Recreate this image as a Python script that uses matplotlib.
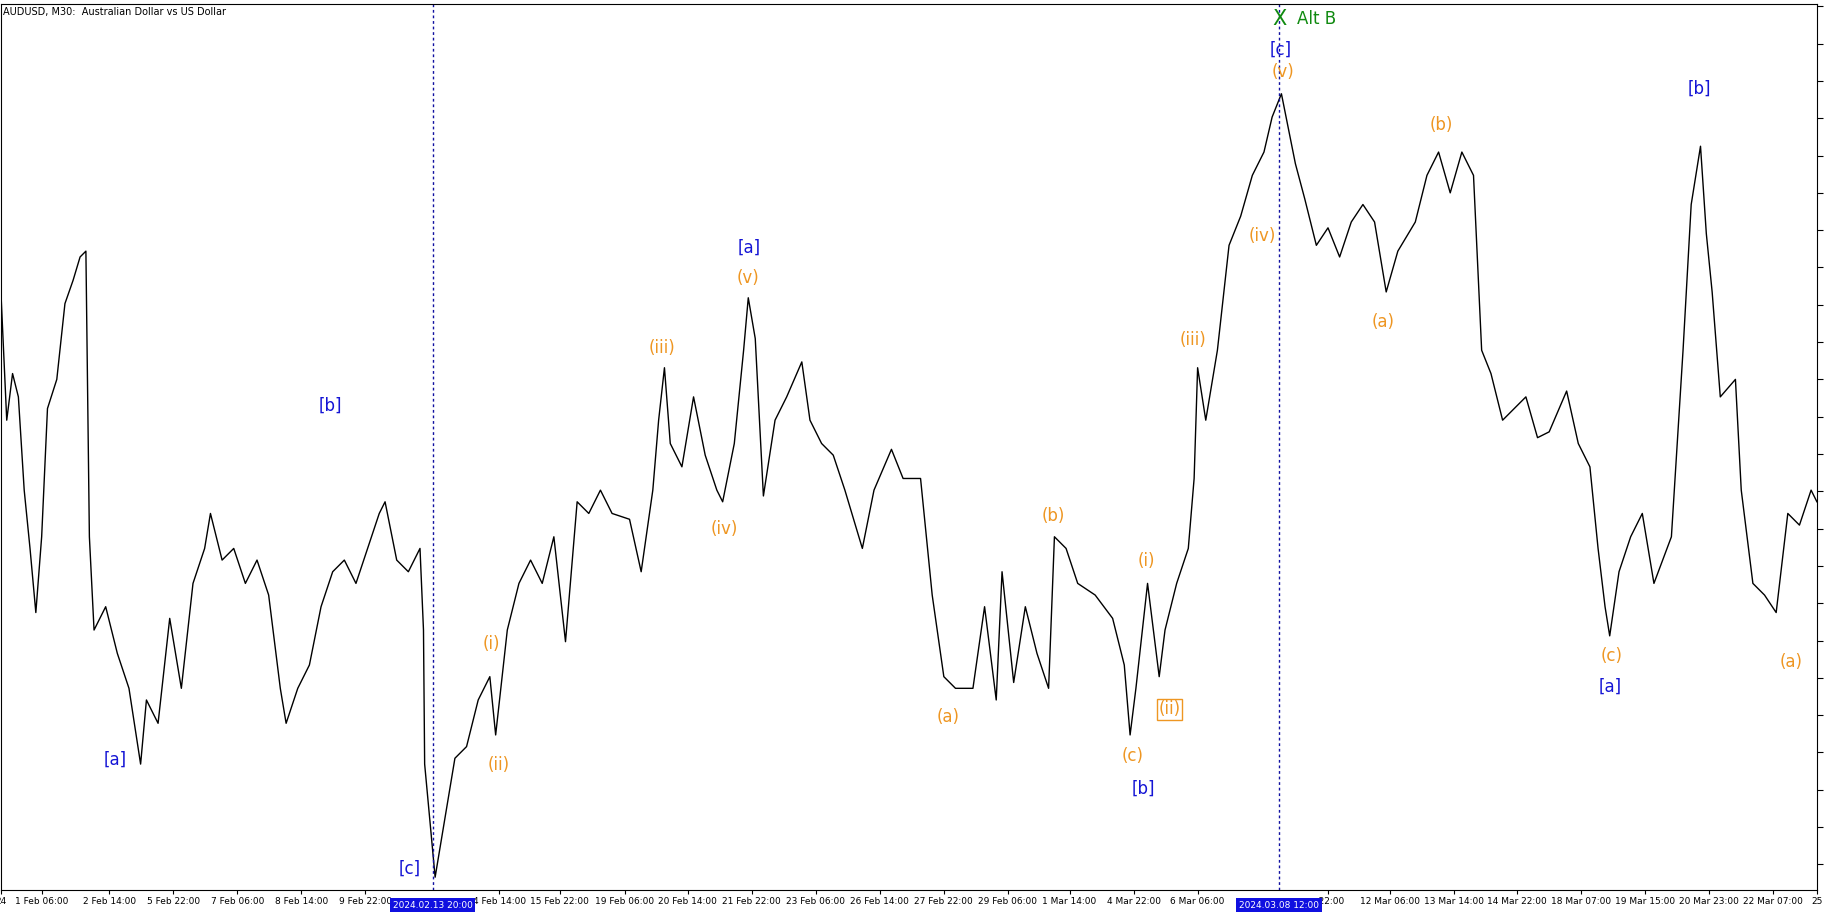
import matplotlib.pyplot as plt

# bar position (chart units) and AUDUSD close prices
bar_x = [0, 5, 10, 15, 20, 25, 30, 35, 40, 48, 55, 62, 68, 73, 76, 80, 90, 100, 110, 120, 125, 135, 145, 155,
         165, 175, 180, 190, 200, 210, 220, 230, 240, 245, 255, 265, 275, 285, 295, 305, 315, 325, 330, 340,
         350, 360, 363, 364, 370, 373, 380, 390, 400, 410, 420, 425, 435, 445, 455, 465, 475, 485, 495, 505,
         515, 525, 540, 550, 560, 565, 570, 575, 585, 595, 605, 615, 620, 630, 638, 642, 648, 655, 665, 675,
         688, 695, 705, 715, 725, 740, 750, 765, 775, 790, 800, 810, 820, 835, 845, 855, 860, 870, 880, 890,
         900, 905, 915, 925, 940, 955, 965, 970, 975, 985, 995, 1000, 1010, 1020, 1025, 1028, 1035, 1045,
         1055, 1065, 1075, 1085, 1092, 1100, 1105, 1112, 1120, 1130, 1140, 1150, 1160, 1170, 1180, 1190,
         1200, 1215, 1225, 1235, 1245, 1255, 1265, 1272, 1280, 1290, 1300, 1310, 1320, 1330, 1345, 1355,
         1365, 1372, 1378, 1382, 1390, 1400, 1410, 1420, 1435, 1445, 1452, 1460, 1465, 1470, 1477, 1490,
         1495, 1505, 1515, 1525, 1535, 1545, 1555, 1560]
screen_y = [250, 360, 320, 340, 420, 470, 525, 460, 350, 325, 260, 240, 220, 215, 460, 540, 520, 560, 590, 655,
            600, 620, 530, 590, 500, 470, 440, 480, 470, 500, 480, 510, 590, 620, 590, 570, 520, 490, 480, 500,
            470, 440, 430, 480, 490, 470, 540, 655, 720, 752, 710, 650, 640, 600, 580, 630, 540, 500, 480, 500,
            460, 550, 430, 440, 420, 440, 445, 490, 420, 360, 315, 380, 400, 340, 390, 420, 430, 380, 300, 255,
            290, 425, 360, 340, 310, 360, 380, 390, 420, 470, 420, 385, 410, 410, 510, 580, 590, 590, 520, 600,
            490, 585, 520, 560, 590, 460, 470, 500, 510, 530, 570, 630, 590, 500, 580, 540, 500, 470, 410, 315,
            360, 300, 210, 185, 150, 130, 100, 80, 105, 140, 170, 210, 195, 220, 190, 175, 190, 250, 215, 190,
            150, 130, 165, 130, 150, 300, 320, 360, 350, 340, 375, 370, 335, 380, 400, 470, 520, 545, 490, 460,
            440, 500, 460, 300, 175, 125, 200, 250, 340, 325, 420, 500, 510, 525, 440, 450, 420, 430]
price = [round(0.6450 + (755 - y) * 0.00003, 5) for y in screen_y]

def to_price(y):
    return 0.6450 + (755 - y) * 0.00003

tick_pos = [0, 35, 93, 148, 203, 258, 313, 428, 480, 536, 590, 645, 700, 755, 810, 865, 918, 973, 1028,
            1140, 1193, 1248, 1302, 1357, 1412, 1467, 1522, 1560]
tick_text = ["24", "1 Feb 06:00", "2 Feb 14:00", "5 Feb 22:00", "7 Feb 06:00", "8 Feb 14:00", "9 Feb 22:00",
             "4 Feb 14:00", "15 Feb 22:00", "19 Feb 06:00", "20 Feb 14:00", "21 Feb 22:00", "23 Feb 06:00",
             "26 Feb 14:00", "27 Feb 22:00", "29 Feb 06:00", "1 Mar 14:00", "4 Mar 22:00", "6 Mar 06:00",
             "r 22:00", "12 Mar 06:00", "13 Mar 14:00", "14 Mar 22:00", "18 Mar 07:00", "19 Mar 15:00",
             "20 Mar 23:00", "22 Mar 07:00", "25"]

BLUE = "#1515d5"
ORANGE = "#ee9622"
labels = [
    (98, 651, "[a]", BLUE), (283, 348, "[b]", BLUE), (351, 745, "[c]", BLUE),
    (421, 552, "(i)", ORANGE), (428, 656, "(ii)", ORANGE), (568, 298, "(iii)", ORANGE),
    (621, 453, "(iv)", ORANGE), (642, 238, "(v)", ORANGE), (643, 212, "[a]", BLUE),
    (814, 615, "(a)", ORANGE), (904, 442, "(b)", ORANGE), (972, 648, "(c)", ORANGE),
    (981, 676, "[b]", BLUE), (984, 481, "(i)", ORANGE), (1004, 608, "(ii)", ORANGE),
    (1024, 291, "(iii)", ORANGE), (1084, 202, "(iv)", ORANGE), (1101, 61, "(v)", ORANGE),
    (1099, 42, "[c]", BLUE), (1187, 276, "(a)", ORANGE), (1237, 107, "(b)", ORANGE),
    (1384, 562, "(c)", ORANGE), (1382, 589, "[a]", BLUE), (1459, 76, "[b]", BLUE),
    (1538, 567, "(a)", ORANGE),
]

fig = plt.figure(figsize=(18.3, 9.15), dpi=100)
ax = fig.add_axes([0.0005, 1 - 890 / 915, 1816 / 1830, 886 / 915])
ax.plot(bar_x, price, color="black", lw=1.0)
ax.set_xlim(0, 1557)
ax.set_ylim(to_price(763), to_price(3))

for xv in (371, 1098):
    ax.axvline(xv, color="#1010a0", ls=(0, (2, 2)), lw=1)

for x, y, t, c in labels:
    kw = {}
    if t == "(ii)" and x > 1000:
        kw = dict(bbox=dict(boxstyle="square,pad=0.1", fc="none", ec=ORANGE, lw=1))
    ax.text(x, to_price(y), t, color=c, fontsize=12, ha="center", va="center", **kw)

ax.text(1098, to_price(16), "X", color="#108a10", fontsize=15, ha="center", va="center")
ax.text(1113, to_price(16), "Alt B", color="#108a10", fontsize=12, ha="left", va="center")
ax.text(2, to_price(10), "AUDUSD, M30:  Australian Dollar vs US Dollar", fontsize=7, va="center")

ax.set_xticks(tick_pos)
ax.set_xticklabels(tick_text, fontsize=6.5)
ax.tick_params(axis="x", length=3, pad=2)
for xv, t in ((371, "2024.02.13 20:00"), (1098, "2024.03.08 12:00")):
    ax.text(xv, -0.012, t, transform=ax.get_xaxis_transform(), fontsize=6.5, color="white",
            ha="center", va="top", zorder=10, clip_on=False,
            bbox=dict(boxstyle="square,pad=0.3", fc="#1010e0", ec="none"))

ax.yaxis.tick_right()
ax.set_yticks([to_price(y) for y in range(5, 760, 32)])
ax.set_yticklabels([])
ax.tick_params(axis="y", length=4)

fig.savefig("out.png", dpi=100)
